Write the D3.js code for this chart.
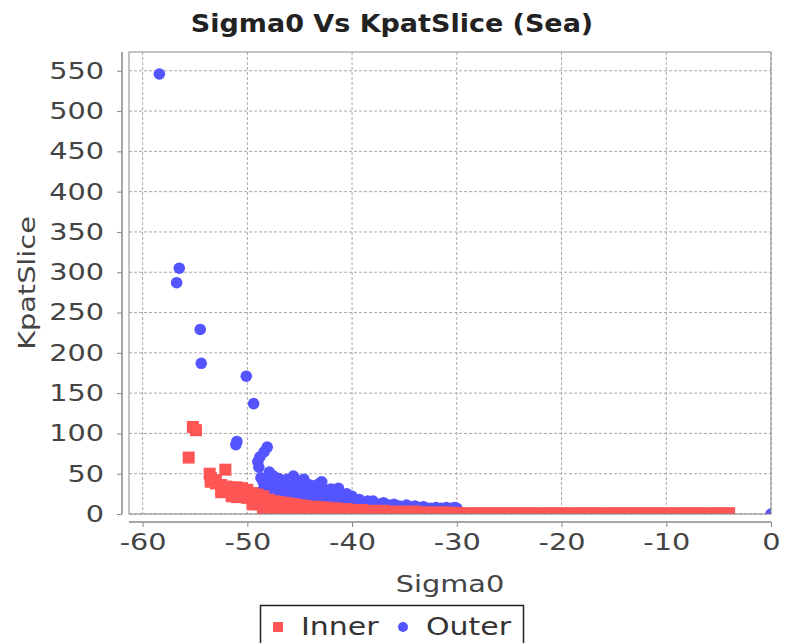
<!doctype html>
<html lang="en">
<head>
<meta charset="UTF-8">
<title>Sigma0 Vs KpatSlice (Sea)</title>
<script src="https://cdnjs.cloudflare.com/ajax/libs/d3/7.8.5/d3.min.js"></script>
<style>
    body { margin: 0; background: #fff; }
    text { font-family: "DejaVu Sans", sans-serif; }
</style>
</head>
<body>
<svg id="chart" width="797" height="643"></svg>
<script>
    // chart values
    var xTicks = [-60, -50, -40, -30, -20, -10, 0];
    var yTicks = [0, 50, 100, 150, 200, 250, 300, 350, 400, 450, 500, 550];

    // Outer series: scattered points, then the dense blob
    var outerX = [-58.4, -56.5, -56.75, -54.5, -54.4, -50.1, -49.4, -51.0, -51.1, -48.1,
        -48.4, -48.8, -49.0, -48.9, -47.9, -48.7, -47.5, -46.9, -46.2, -45.6,
        -45.0, -44.6, -44.0, -43.1, -42.9, -42.0, -41.5, -41.3, -40.5, -40.0,
        -39.3, -38.5, -38.0, -37.0, -36.0, -34.8, -34.0, -33.2, -32.0, -31.0,
        -30.2, 0,
        -48.5, -48.5, -48.5, -48.0, -48.0, -48.0, -47.5, -47.5, -47.5,
        -47.0, -47.0, -47.0, -47.0, -46.5, -46.5, -46.5, -46.5,
        -46.0, -46.0, -46.0, -46.0, -45.5, -45.5, -45.5, -45.5,
        -45.0, -45.0, -45.0, -45.0, -44.5, -44.5, -44.5, -44.5,
        -44.0, -44.0, -44.0, -44.0, -43.5, -43.5, -43.5, -43.5,
        -43.0, -43.0, -43.0, -43.0, -42.5, -42.5, -42.5, -42.5,
        -42.0, -42.0, -42.0, -42.0, -41.5, -41.5, -41.5,
        -41.0, -41.0, -41.0, -40.5, -40.5, -40.5, -40.0, -40.0, -40.0,
        -39.5, -39.5, -39.0, -39.0, -38.5, -38.5, -38.0, -38.0,
        -37.5, -37.5, -37.0, -37.0, -36.5, -36.0, -35.5, -35.0,
        -34.5, -34.0, -33.5, -33.0, -32.5, -32.0, -31.5, -31.0, -30.5, -30.0];
    var outerY = [546, 305, 287, 229, 187, 171, 137, 90, 86, 83,
        77, 71, 65, 58, 52, 45, 47, 40, 43, 47,
        41, 43, 36, 38, 40, 31, 28, 32, 25, 22,
        18, 16, 16, 14, 12, 11, 10, 9, 8, 8,
        8, 0,
        40, 30, 20, 45, 35, 25, 40, 30, 22,
        44, 38, 28, 20, 40, 32, 22, 16,
        40, 30, 22, 15, 42, 35, 25, 18,
        38, 30, 22, 16, 38, 30, 22, 15,
        34, 26, 18, 12, 35, 28, 20, 13,
        33, 25, 17, 11, 30, 22, 15, 10,
        28, 20, 13, 9, 26, 18, 12,
        24, 16, 10, 20, 14, 9, 18, 12, 8,
        16, 10, 14, 9, 14, 8, 12, 7,
        12, 7, 11, 6, 11, 10, 10, 9,
        9, 8, 8, 8, 7, 7, 7, 7, 7, 7];

    // Inner series: scattered squares, the staircase, then the long flat run
    var innerX = [-55.2, -54.9, -55.6, -53.6, -52.1,
        -53.5, -53.5, -53.0, -53.0, -52.5, -52.5, -52.5, -52.0, -52.0,
        -51.5, -51.5, -51.5, -51.0, -51.0, -51.0, -50.5, -50.5, -50.5,
        -50.0, -50.0, -50.0, -49.5, -49.5, -49.5, -49.5, -49.0, -49.0, -49.0,
        -48.5, -48.5, -48.5, -48.5, -48.0, -48.0, -48.0, -48.0,
        -47.5, -47.5, -47.5, -47.0, -47.0, -47.0, -46.5, -46.5, -46.5,
        -46.0, -46.0, -46.0, -45.5, -45.5, -45.0, -45.0,
        -44.5, -44.0, -43.5, -43.0, -42.5, -42.0,
        -41.5, -41.0, -40.5, -40.0, -39.0, -38.0, -37.0, -36.0, -35.0, -34.0,
        -33.0, -32.0, -31.0, -30.0, -29, -28, -27, -26, -25, -24,
        -23, -22, -21, -20, -19, -18, -17, -16, -15, -14,
        -13, -12, -11, -10, -9, -8, -7, -6, -5, -4,
        -45.0, -44.0, -43.0, -42.0, -41.0, -40.0];
    var innerY = [108, 104, 70, 50, 55,
        45, 40, 42, 38, 36, 30, 27, 34, 28,
        33, 27, 22, 33, 26, 21, 32, 25, 21,
        30, 24, 20, 26, 20, 16, 12, 24, 18, 12,
        22, 16, 10, 5, 18, 12, 6, 2,
        16, 10, 4, 15, 9, 3, 14, 8, 2,
        13, 7, 2, 12, 6, 11, 5,
        10, 9, 9, 8, 8, 7,
        7, 6, 6, 5, 5, 4, 4, 3, 3, 3,
        2, 2, 2, 1.5, 1, 1, 1, 1, 1, 1,
        1, 1, 1, 1, 1, 1, 1, 1, 1, 1,
        1, 1, 1, 1, 1, 1, 1, 1, 1, 1,
        2, 2, 3, 2, 2, 2];

    var inner = innerX.map(function (v, i) { return {x: v, y: innerY[i]}; });
    var outer = outerX.map(function (v, i) { return {x: v, y: outerY[i]}; });

    var svg = d3.select('#chart');
    var plotL = 129, plotR = 771, plotT = 52, plotB = 514;
    var stretch = 'scale(1.25,1)';

    var x = d3.scaleLinear().domain([-61.3, 0]).range([plotL, plotR]);
    var y = d3.scaleLinear().domain([0, 573.3]).range([plotB, plotT]);

    // grid
    var grid = svg.append('g')
            .attr('stroke', '#a8a8a8')
            .attr('stroke-dasharray', '3,2')
            .attr('stroke-width', 1);
    grid.selectAll('line.v').data(xTicks).enter().append('line')
            .attr('class', 'v')
            .attr('x1', function (d) { return x(d); })
            .attr('x2', function (d) { return x(d); })
            .attr('y1', plotT).attr('y2', plotB);
    grid.selectAll('line.h').data(yTicks).enter().append('line')
            .attr('class', 'h')
            .attr('x1', plotL).attr('x2', plotR)
            .attr('y1', function (d) { return y(d); })
            .attr('y2', function (d) { return y(d); });

    svg.append('clipPath').attr('id', 'plotclip')
            .append('rect')
            .attr('x', plotL).attr('y', plotT)
            .attr('width', plotR - plotL).attr('height', plotB - plotT);

    var marks = svg.append('g').attr('clip-path', 'url(#plotclip)');

    // Outer drawn first, Inner on top
    marks.selectAll('circle').data(outer).enter().append('circle')
            .attr('cx', function (d) { return x(d.x); })
            .attr('cy', function (d) { return y(d.y); })
            .attr('r', 5.8)
            .attr('fill', '#5555ff');

    marks.selectAll('rect').data(inner).enter().append('rect')
            .attr('x', function (d) { return x(d.x) - 6; })
            .attr('y', function (d) { return y(d.y) - 6; })
            .attr('width', 12)
            .attr('height', 12)
            .attr('fill', '#ff5555');

    // plot outline
    svg.append('rect')
            .attr('x', plotL).attr('y', plotT)
            .attr('width', plotR - plotL).attr('height', plotB - plotT)
            .attr('fill', 'none')
            .attr('stroke', '#8a8a8a');

    // axes, offset from the plot like the original
    var fmt = function (d) { return String(d); };
    var xAxis = svg.append('g')
            .attr('transform', 'translate(0,522)')
            .call(d3.axisBottom(x).tickValues(xTicks).tickSize(5).tickPadding(6.5).tickFormat(fmt));
    var yAxis = svg.append('g')
            .attr('transform', 'translate(122,0)')
            .call(d3.axisLeft(y).tickValues(yTicks).tickSize(5).tickPadding(9.3).tickFormat(fmt));

    [xAxis, yAxis].forEach(function (ax) {
        ax.select('.domain').attr('stroke', '#8a8a8a').attr('stroke-width', 1.5);
        ax.selectAll('.tick line').attr('stroke', '#8a8a8a');
        ax.selectAll('.tick text')
                .attr('fill', '#444')
                .style('font-size', '23px')
                .attr('transform', stretch);
    });
    xAxis.select('.domain').attr('d', 'M' + plotL + ',0H' + plotR);
    yAxis.select('.domain').attr('d', 'M0,' + plotT + 'V' + plotB);

    // titles
    svg.append('text')
            .attr('transform', 'translate(392,32) scale(1.08,1)')
            .attr('text-anchor', 'middle')
            .attr('font-weight', 'bold')
            .attr('fill', '#222')
            .style('font-size', '25px')
            .text('Sigma0 Vs KpatSlice (Sea)');

    svg.append('text')
            .attr('transform', 'translate(450,592) ' + stretch)
            .attr('text-anchor', 'middle')
            .attr('fill', '#444')
            .style('font-size', '23px')
            .text('Sigma0');

    svg.append('text')
            .attr('transform', 'translate(35,283) rotate(-90) ' + stretch)
            .attr('text-anchor', 'middle')
            .attr('fill', '#444')
            .style('font-size', '23px')
            .text('KpatSlice');

    // legend
    var legend = svg.append('g');
    legend.append('rect')
            .attr('x', 260.5).attr('y', 605.5)
            .attr('width', 263).attr('height', 50)
            .attr('fill', 'none')
            .attr('stroke', '#222')
            .attr('stroke-width', 1.5);
    legend.append('rect')
            .attr('x', 273).attr('y', 622)
            .attr('width', 10).attr('height', 10)
            .attr('fill', '#ff5555');
    legend.append('text')
            .attr('transform', 'translate(301,635) ' + stretch)
            .attr('fill', '#333')
            .style('font-size', '24px')
            .text('Inner');
    legend.append('circle')
            .attr('cx', 403).attr('cy', 627).attr('r', 5)
            .attr('fill', '#5555ff');
    legend.append('text')
            .attr('transform', 'translate(426,635) ' + stretch)
            .attr('fill', '#333')
            .style('font-size', '24px')
            .text('Outer');
</script>
</body>
</html>
